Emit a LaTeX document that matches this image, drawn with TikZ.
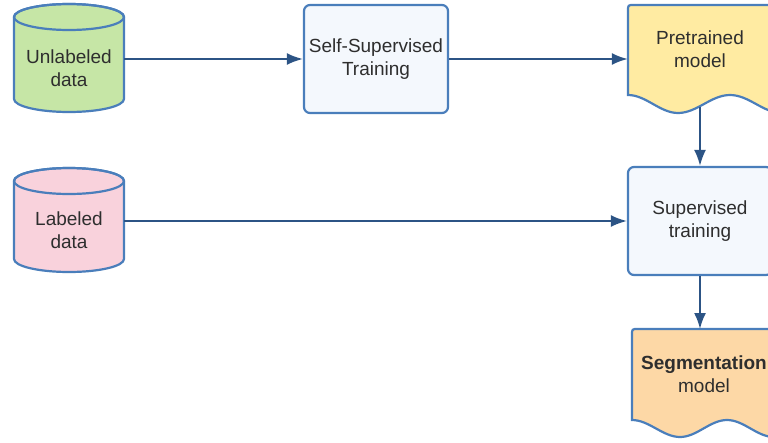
\documentclass[tikz,border=0pt]{standalone}
\usepackage{fontspec}
\setmainfont{Liberation Sans}
\usetikzlibrary{arrows.meta}
\definecolor{bordercol}{HTML}{4A7EBB}
\definecolor{arrowcol}{HTML}{2C5485}
\definecolor{greenfill}{HTML}{C6E6A6}
\definecolor{pinkfill}{HTML}{F9D2DC}
\definecolor{boxfill}{HTML}{F4F8FD}
\definecolor{yellowfill}{HTML}{FFEBA2}
\definecolor{orangefill}{HTML}{FDD8A6}
\definecolor{textcol}{HTML}{2E2E2E}
\begin{document}
\begin{tikzpicture}[x=1pt,y=-1pt,
  shapeline/.style={draw=bordercol, line width=2.2pt},
  txt/.style={text=textcol, font=\fontsize{19}{23.5}\selectfont, align=center, inner sep=0pt},
  procbox/.style={shapeline, fill=boxfill, rounded corners=6pt, minimum width=144pt, minimum height=108pt, txt},
  flow/.style={draw=arrowcol, line width=2pt, -{Latex[length=16pt,width=12pt]}}]
\useasboundingbox (0,0) rectangle (768,442);
\clip (0,0) rectangle (768,442);

% Unlabeled data cylinder
\path[shapeline, fill=greenfill] (14,17) -- (14,99)
  arc[start angle=180, end angle=0, x radius=55, y radius=13]
  -- (124,17) arc[start angle=360, end angle=180, x radius=55, y radius=13] -- cycle;
\draw[shapeline] (69,17) ellipse [x radius=55, y radius=13];
\node[txt, minimum width=110pt] (unl) at (69,68) {Unlabeled\\data};

% Labeled data cylinder
\path[shapeline, fill=pinkfill] (14,181) -- (14,259)
  arc[start angle=180, end angle=0, x radius=55, y radius=13]
  -- (124,181) arc[start angle=360, end angle=180, x radius=55, y radius=13] -- cycle;
\draw[shapeline] (69,181) ellipse [x radius=55, y radius=13];
\node[txt, minimum width=110pt] (lab) at (69,230) {Labeled\\data};

% Self-supervised training
\node[procbox] (ssl) at (376,59) {Self-Supervised\\Training};

% Pretrained model (document shape)
\path[shapeline, fill=yellowfill] (628,95) -- (628,11) .. controls (628,5) .. (634,5)
  -- (790,5) -- (790,113) -- (782,113)
  .. controls (763,113) and (749,95) .. (730,95)
  .. controls (711,95) and (697,113) .. (678,113)
  .. controls (660,113) and (646,95) .. (628,95) -- cycle;
\node[txt, minimum width=144pt] (pre) at (700,49) {Pretrained\\model};
\coordinate (prebot) at (700,107);

% Supervised training
\node[procbox] (sup) at (700,221) {Supervised\\training};

% Segmentation model (document shape)
\path[shapeline, fill=orangefill] (632,420) -- (632,335) .. controls (632,329) .. (638,329)
  -- (790,329) -- (790,437) -- (774,437)
  .. controls (757,437) and (744,420) .. (727,420)
  .. controls (710,420) and (697,437) .. (680,437)
  .. controls (663,437) and (649,420) .. (632,420) -- cycle;
\node[txt] (seg) at (704,374) {\textbf{Segmentation}\\model};
\coordinate (segtop) at (700,329);

% Connectors
\draw[flow] (unl.east |- ssl.west) -- (ssl.west);
\draw[flow] (ssl.east) -- (pre.west |- ssl.east);
\draw[flow] (lab.east |- sup.west) -- (sup.west);
\draw[flow] (prebot) -- (sup.north);
\draw[flow] (sup.south) -- (segtop);
\end{tikzpicture}
\end{document}
